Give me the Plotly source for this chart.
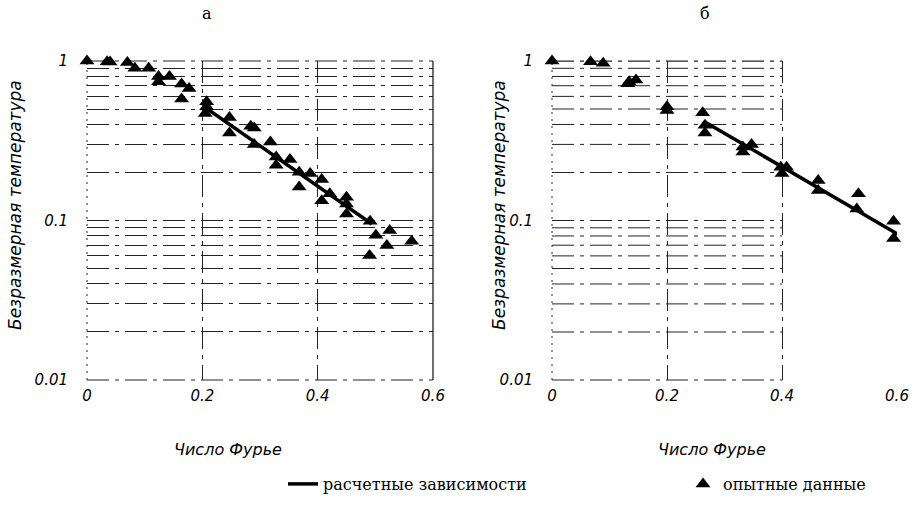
import plotly.graph_objects as go

# ---- data: panel "а" ----
a_x = [0.0, 0.035, 0.04, 0.07, 0.083, 0.107, 0.124, 0.124, 0.143, 0.164, 0.177, 0.164,
       0.2075, 0.2075, 0.205, 0.247, 0.247, 0.284, 0.29, 0.29, 0.318, 0.328, 0.328, 0.352,
       0.368, 0.368, 0.387, 0.407, 0.407, 0.421, 0.45, 0.45, 0.45, 0.491, 0.501, 0.525,
       0.52, 0.49, 0.563]
a_y = [1.0, 0.99, 0.985, 0.98, 0.90, 0.90, 0.80, 0.74, 0.80, 0.717, 0.673, 0.577,
       0.555, 0.516, 0.469, 0.442, 0.354, 0.39, 0.38, 0.30, 0.311, 0.25, 0.222, 0.241,
       0.201, 0.162, 0.197, 0.181, 0.133, 0.147, 0.14, 0.127, 0.11, 0.099, 0.0807, 0.0866,
       0.0697, 0.0604, 0.074]
a_fit_x = [0.2075, 0.494]
a_fit_y = [0.504, 0.095]

# ---- data: panel "б" ----
b_x = [0.0, 0.067, 0.089, 0.134, 0.146, 0.132, 0.2, 0.2, 0.262, 0.266, 0.266, 0.332,
       0.332, 0.347, 0.398, 0.4, 0.408, 0.463, 0.463, 0.533, 0.53, 0.594, 0.594, 0.602]
b_y = [1.0, 0.99, 0.967, 0.74, 0.76, 0.72, 0.516, 0.49, 0.473, 0.396, 0.354, 0.289,
       0.269, 0.30, 0.216, 0.197, 0.216, 0.178, 0.154, 0.147, 0.118, 0.099, 0.077, 0.082]
b_fit_x = [0.266, 0.605]
b_fit_y = [0.415, 0.0807]

x_ticks = [0, 0.2, 0.4, 0.6]
x_tick_text = ["0", "0.2", "0.4", "0.6"]
y_ticks = [0.01, 0.1, 1]
y_tick_text = ["0.01", "0.1", "1"]
y_minor = [0.02, 0.03, 0.04, 0.05, 0.06, 0.07, 0.08, 0.09,
           0.2, 0.3, 0.4, 0.5, 0.6, 0.7, 0.8, 0.9]
b_grid_xmax = 0.4

panel_titles = ["а", "б"]
x_title = "Число Фурье"
y_title = "Безразмерная температура"
legend_line = "расчетные зависимости"
legend_marker = "опытные данные"

W, H = 917, 510
SANS = "DejaVu Sans"
SERIF = "DejaVu Serif"
GRID_COL = "#222222"
DASH = "22px,6px,4px,6px"
DOT = "2px,5px"

fig = go.Figure()

marker = dict(symbol="triangle-up", size=13, color="black")

fig.add_trace(go.Scatter(x=a_fit_x, y=a_fit_y, mode="lines", line=dict(color="black", width=3.5),
                         name=legend_line, xaxis="x", yaxis="y", showlegend=True, legend="legend"))
fig.add_trace(go.Scatter(x=a_x, y=a_y, mode="markers", marker=marker, cliponaxis=False,
                         name=legend_marker, xaxis="x", yaxis="y", showlegend=True, legend="legend2"))
fig.add_trace(go.Scatter(x=b_fit_x, y=b_fit_y, mode="lines", line=dict(color="black", width=3.5),
                         cliponaxis=False, name=legend_line, xaxis="x2", yaxis="y2", showlegend=False))
fig.add_trace(go.Scatter(x=b_x, y=b_y, mode="markers", marker=marker, cliponaxis=False,
                         name=legend_marker, xaxis="x2", yaxis="y2", showlegend=False))

tickfont = dict(family=SANS, size=15, color="black", style="italic")
ydom = [1 - 380 / H, 1 - 61 / H]

def xaxis(dom, anchor):
    return dict(domain=dom, anchor=anchor, range=[0, 0.6], tickmode="array",
                tickvals=x_ticks, ticktext=x_tick_text, tickfont=tickfont,
                showgrid=True, gridcolor=GRID_COL, gridwidth=1, griddash=DASH,
                showline=False, zeroline=False, ticks="", ticklabelstandoff=5,
                automargin=False)

def yaxis(dom, anchor, grid):
    d = dict(domain=dom, anchor=anchor, type="log", range=[-2, 0], tickmode="array",
             tickvals=y_ticks, ticktext=y_tick_text, tickfont=tickfont,
             showgrid=grid, gridcolor=GRID_COL, gridwidth=1, griddash=DASH,
             showline=False, zeroline=False, ticks="", ticklabelstandoff=18,
             automargin=False)
    if grid:
        d["minor"] = dict(tickmode="array", tickvals=y_minor, showgrid=True,
                          gridcolor=GRID_COL, gridwidth=1, griddash=DASH, ticks="")
    return d

fig.update_layout(
    xaxis=xaxis([87 / W, 433 / W], "y"), yaxis=yaxis(ydom, "x", True),
    xaxis2=xaxis([552 / W, 897 / W], "y2"), yaxis2=yaxis(ydom, "x2", False),
)

shapes = []
# right panel: horizontal grid only over its left part
for v in y_ticks[1:] + y_minor:
    shapes.append(dict(type="line", xref="x2", yref="y2", x0=0, x1=b_grid_xmax, y0=v, y1=v,
                       line=dict(color=GRID_COL, width=1, dash=DASH), layer="below"))
# frame edges
edge = lambda xr, yr, x0, x1, y0, y1, dash, w=1: dict(
    type="line", xref=xr, yref=yr, x0=x0, x1=x1, y0=y0, y1=y1,
    line=dict(color=GRID_COL, width=w, dash=dash), layer="below")
shapes += [
    edge("x domain", "y domain", 0, 1, 1, 1, DASH),          # top of panel а
    edge("x domain", "y domain", 0, 1, 0, 0, DASH),          # bottom of panel а
    edge("x domain", "y domain", 1, 1, 0, 1, "solid", 1.3),   # right of panel а
    edge("x domain", "y domain", 0, 0, 0, 1, DOT),           # left of panel а
    edge("x2 domain", "y2 domain", 0, 0, 0, 1, DOT),         # left of panel б
    edge("x2 domain", "y2 domain", 0, 2 / 3, 1, 1, DASH),     # top of panel б
    edge("x2 domain", "y2 domain", 0, 2 / 3, 0, 0, DASH),     # bottom of panel б
]
fig.update_layout(shapes=shapes)

ann = []
for txt, xc in zip(panel_titles, [207, 705]):
    ann.append(dict(text=txt, x=xc / W, y=1 - 13 / H, xref="paper", yref="paper",
                    showarrow=False, font=dict(family=SERIF, size=16, color="black"),
                    xanchor="center", yanchor="middle"))
for xc in [228, 712]:
    ann.append(dict(text=x_title, x=xc / W, y=1 - 449 / H, xref="paper", yref="paper",
                    showarrow=False, font=dict(family=SANS, size=16, color="black", style="italic"),
                    xanchor="center", yanchor="middle"))
for xc in [15, 499]:
    ann.append(dict(text=y_title, x=xc / W, y=1 - 205 / H, xref="paper", yref="paper",
                    textangle=-90, showarrow=False,
                    font=dict(family=SANS, size=17, color="black", style="italic"),
                    xanchor="center", yanchor="middle"))
fig.update_layout(annotations=ann)

legfont = dict(family=SERIF, size=16, color="black")
fig.update_layout(
    width=W, height=H, margin=dict(l=0, r=0, t=0, b=0, autoexpand=False),
    paper_bgcolor="white", plot_bgcolor="white",
    showlegend=True,
    legend=dict(orientation="h", x=283 / W, y=1 - 484 / H, xanchor="left", yanchor="middle",
                font=legfont, bgcolor="rgba(0,0,0,0)"),
    legend2=dict(orientation="h", x=683 / W, y=1 - 484 / H, xanchor="left", yanchor="middle",
                 font=legfont, bgcolor="rgba(0,0,0,0)"),
)

fig.write_html("out.html")
